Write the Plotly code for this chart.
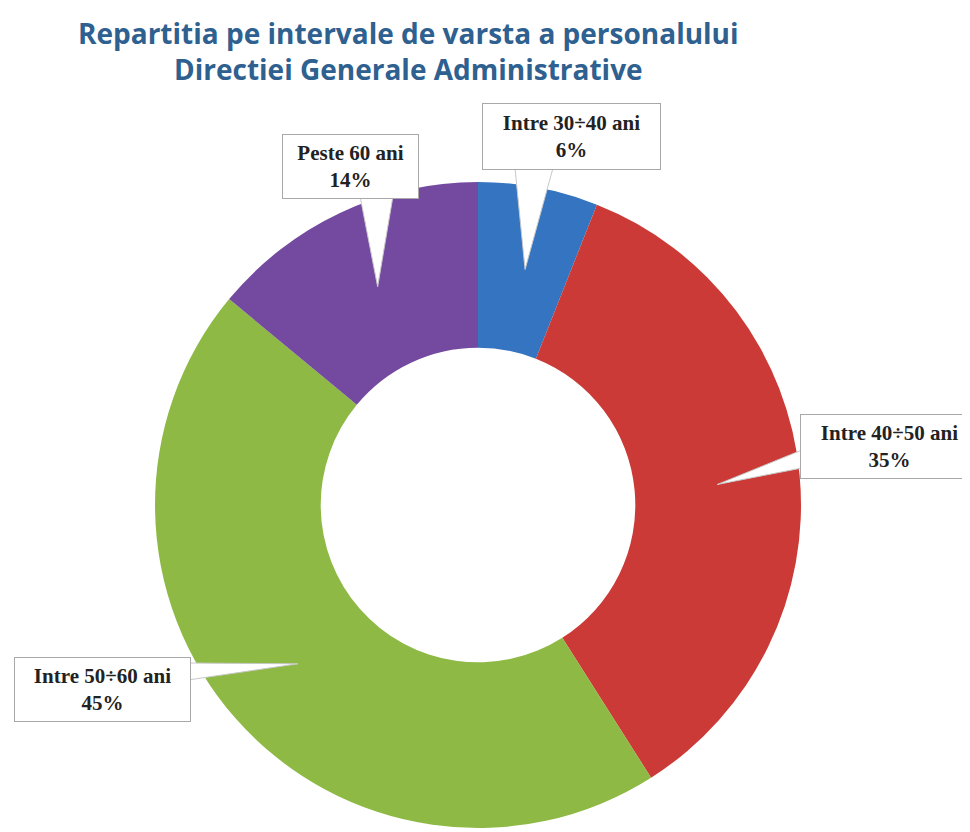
import math
import plotly.graph_objects as go

# ---- data ----
categories = ["Intre 30÷40 ani", "Intre 40÷50 ani", "Intre 50÷60 ani", "Peste 60 ani"]
values = [6, 35, 45, 14]
colors = ["#3474C0", "#CB3A36", "#8EB944", "#7449A0"]
title_lines = ["Repartitia pe intervale de varsta a personalului",
               "Directiei Generale Administrative"]

# ---- layout geometry (page pixels) ----
W, H = 970, 832
OFF = 8  # default body margin of the html page
CX, CY, R = 478, 505, 323
HOLE = 0.487
# label boxes: centre x, centre y, half width, half height, side, base offsets, tip angle shift (deg)
label_boxes = [
    (571, 137, 89, 33, "bottom", (-56, -18), 0.5),
    (889, 446, 89, 32, "left", (4, 22), 0.5),
    (102, 689, 88, 32, "right", (-26, -9), 0.0),
    (350, 166, 68, 32, "bottom", (10, 43), 0.5),
]


def px(x):
    return (x - OFF) / W


def py(y):
    return 1 - (y - OFF) / H


fig = go.Figure(go.Pie(
    labels=categories, values=values, sort=False, direction="clockwise",
    rotation=0, hole=HOLE, textinfo="none", hoverinfo="label+percent",
    marker=dict(colors=colors, line=dict(width=0)),
    domain=dict(x=[px(CX - R), px(CX + R)], y=[py(CY + R), py(CY - R)]),
    showlegend=False,
))

total = sum(values)
cum = 0
shapes = []
annotations = []
rmid = R * (1 + HOLE) / 2
BP, BW = 4, 1
for i, v in enumerate(values):
    bx, by, hw, hh, side, (o1, o2), shift = label_boxes[i]
    mid = (cum + v / 2) / total * 360 + shift
    cum += v
    a = math.radians(mid)
    tx = CX + rmid * math.sin(a)
    ty = CY - rmid * math.cos(a)
    if side == "bottom":
        e = by + hh - 2
        p1, p2 = (bx + o1, e), (bx + o2, e)
    elif side == "left":
        e = bx - hw + 2
        p1, p2 = (e, by + o1), (e, by + o2)
    else:
        e = bx + hw - 2
        p1, p2 = (e, by + o1), (e, by + o2)
    path = "M {} {} L {} {} L {} {} Z".format(px(p1[0]), py(p1[1]), px(tx), py(ty), px(p2[0]), py(p2[1]))
    shapes.append(dict(type="path", path=path, xref="paper", yref="paper",
                       fillcolor="white", line=dict(color="#C8C8C8", width=1), layer="above"))
    annotations.append(dict(
        x=px(bx), y=py(by), xref="paper", yref="paper", showarrow=False,
        text="<b>{}</b><br><b>{}%</b>".format(categories[i], values[i]),
        font=dict(family="Liberation Serif", size=21, color="#222222"),
        align="center", bgcolor="white", bordercolor="#A8A8A8", borderwidth=BW,
        borderpad=BP, width=2 * hw - 2 * BP - BW, height=2 * hh - 2 * BP - BW,
        xanchor="center", yanchor="middle",
    ))

annotations.append(dict(
    x=px(408), y=py(51), xref="paper", yref="paper", showarrow=False,
    text="<b>{}</b><br><b>{}</b>".format(*title_lines),
    font=dict(family="Open Sans", size=28, color="#2E6090"),
    align="center", xanchor="center", yanchor="middle",
))

fig.update_layout(
    width=W, height=H, margin=dict(l=0, r=0, t=0, b=0),
    paper_bgcolor="white", plot_bgcolor="white",
    shapes=shapes, annotations=annotations,
)

fig.write_html("out.html")
